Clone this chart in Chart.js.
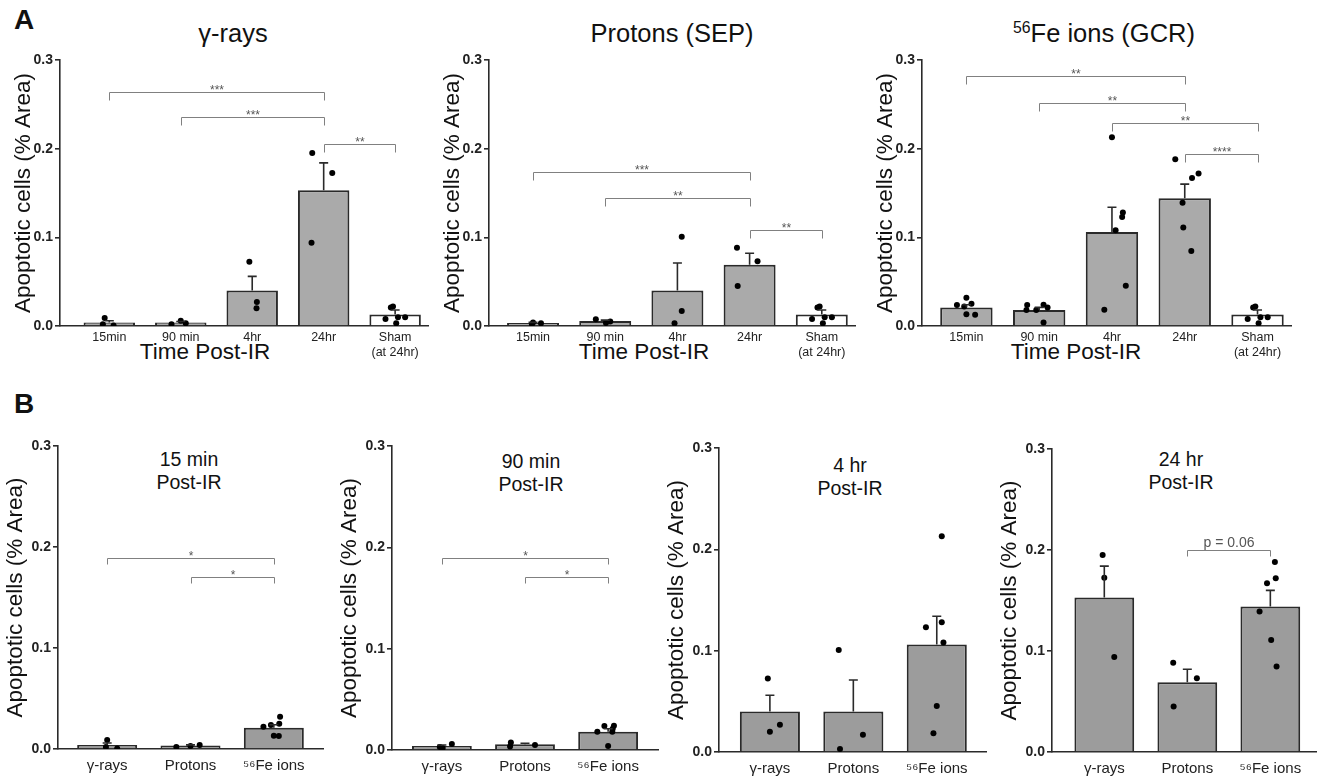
<!DOCTYPE html>
<html>
<head>
<meta charset="utf-8">
<script src="https://cdn.jsdelivr.net/npm/chart.js@4.4.1/dist/chart.umd.min.js"></script>
<style>
  body { margin: 0; background: #fff; width: 1328px; height: 781px; position: relative; overflow: hidden;
         font-family: 'Liberation Sans', Arial, sans-serif; color: #111; }
  canvas { position: absolute; }
  .txt { position: absolute; width: 300px; text-align: center; white-space: nowrap; }
  .letter { position: absolute; font-weight: bold; font-size: 28px; }
  .ptitle { font-size: 25.5px; line-height: 30px; }
  .btitle { font-size: 19.5px; line-height: 23px; }
  .xtitle { font-size: 22.5px; line-height: 26px; }
  sup { font-size: 62%; vertical-align: 0.55em; line-height: 0; }
</style>
</head>
<body>
<div class="letter" style="left:14px; top:4px;">A</div>
<div class="letter" style="left:14px; top:388px;">B</div>

<div class="txt ptitle" style="left:83px; top:18px;">γ-rays</div>
<div class="txt ptitle" style="left:522px; top:18px;">Protons (SEP)</div>
<div class="txt ptitle" style="left:954px; top:18px;"><sup>56</sup>Fe ions (GCR)</div>

<div class="txt xtitle" style="left:55px; top:339px;">Time Post-IR</div>
<div class="txt xtitle" style="left:494px; top:339px;">Time Post-IR</div>
<div class="txt xtitle" style="left:926px; top:339px;">Time Post-IR</div>

<div class="txt btitle" style="left:39px; top:448px;">15 min<br>Post-IR</div>
<div class="txt btitle" style="left:381px; top:450px;">90 min<br>Post-IR</div>
<div class="txt btitle" style="left:700px; top:454px;">4 hr<br>Post-IR</div>
<div class="txt btitle" style="left:1031px; top:448px;">24 hr<br>Post-IR</div>

<canvas id="a1"></canvas>
<canvas id="a2"></canvas>
<canvas id="a3"></canvas>
<canvas id="b1"></canvas>
<canvas id="b2"></canvas>
<canvas id="b3"></canvas>
<canvas id="b4"></canvas>

<script>
// Apoptotic cells (% area) after gamma, proton and 56Fe irradiation
// Panel A: time course per radiation type; Panel B: same data regrouped by time point

const yTicks = [0, 0.1, 0.2, 0.3];
const timeLabels = ['15min', '90 min', '4hr', '24hr', ['Sham', '(at 24hr)']];
const typeLabels = ['γ-rays', 'Protons', '⁵⁶Fe ions'];

// sham group (shared by all three A panels)
const shamMean = 0.013;
const shamSem = 0.005;
const shamPts = [0.022, 0.021, 0.008, 0.010, 0.010, 0.003];
const shamJit = [-0.03, -0.06, -0.135, 0.04, 0.14, 0.015];

// gamma-rays: 15min, 90min, 4hr, 24hr
const gammaMean = [0.004, 0.004, 0.040, 0.153];
const gammaSem = [0.002, 0.001, 0.016, 0.031];
const gammaPts = [[0.009, 0.002, 0.0005], [0.002, 0.006, 0.003], [0.0725, 0.027, 0.020], [0.195, 0.1725, 0.094]];
const gammaJitA = [[-0.065, -0.09, 0.06], [-0.13, 0, 0.07], [-0.04, 0.065, 0.06], [-0.16, 0.12, -0.17]];
const gammaJitB = [[0, -0.015, 0.12], [0.01, 0.12, -0.025], [-0.025, 0.12, 0], [-0.02, 0, 0.12]];

// protons (SEP)
const protonMean = [0.0034, 0.0056, 0.040, 0.069];
const protonSem = [0.0007, 0.001, 0.031, 0.013];
const protonPts = [[0.004, 0.002, 0.003], [0.0075, 0.0035, 0.005], [0.1007, 0.017, 0.003], [0.0883, 0.073, 0.045]];
const protonJitA = [[0, -0.015, 0.11], [-0.13, 0.01, 0.07], [0.06, 0.06, -0.04], [-0.175, 0.11, -0.165]];
const protonJitB = [[0.11, -0.17, 0], [-0.17, -0.18, 0.12], [-0.175, 0.115, -0.16], [-0.17, 0.115, -0.165]];

// 56Fe ions (GCR)
const feMean = [0.021, 0.018, 0.106, 0.144];
const feSem = [0.003, 0.003, 0.028, 0.016];
const fePts = [[0.0319, 0.025, 0.0237, 0.022, 0.0132, 0.0128],
               [0.024, 0.0237, 0.021, 0.018, 0.018, 0.004],
               [0.2128, 0.128, 0.123, 0.108, 0.0455, 0.0184],
               [0.188, 0.172, 0.167, 0.139, 0.111, 0.0846]];
const feJitA = [[0, 0.07, -0.13, -0.03, 0, 0.12],
                [0.06, -0.165, 0.115, -0.175, -0.04, 0.06],
                [0, 0.15, 0.14, 0.05, 0.19, -0.105],
                [-0.13, 0.19, 0.10, -0.03, -0.02, 0.09]];
const feJitB = [[0.075, 0.065, -0.035, -0.125, 0, 0.06],
                [0.07, -0.045, 0.055, -0.13, 0.05, 0],
                [0.06, 0.06, -0.13, 0.08, 0, -0.04],
                [0.055, 0.065, -0.04, -0.13, 0.01, 0.075]];

// significance brackets: [from, to, height, label]
const bracketsA1 = [[0, 3, 0.2636, '***'], [1, 3, 0.2353, '***'], [3, 4, 0.2056, '**']];
const bracketsA2 = [[0, 3, 0.174, '***'], [1, 3, 0.1444, '**'], [3, 4, 0.1086, '**']];
const bracketsA3 = [[0, 3, 0.2822, '**'], [1, 3, 0.2518, '**'], [2, 4, 0.2286, '**'], [3, 4, 0.194, '****']];
const bracketsB1 = [[0, 2, 0.1896, '*'], [1, 2, 0.1705, '*']];
const bracketsB2 = [[0, 2, 0.1895, '*'], [1, 2, 0.1706, '*']];
const bracketsB3 = [];
const bracketsB4 = [[1, 2, 0.200, 'p = 0.06']];

Chart.defaults.font.family = "'Liberation Sans', Arial, sans-serif";
Chart.defaults.color = '#222';

// error bars (upper SEM only) and significance brackets
const annotPlugin = {
  id: 'annot',
  afterDatasetsDraw(chart, args, o) {
    const { ctx } = chart;
    const x = chart.scales.x, y = chart.scales.y;
    ctx.save();
    ctx.strokeStyle = '#2a2a2a';
    ctx.lineWidth = 1.6;
    o.means.forEach((m, i) => {
      const px = x.getPixelForValue(i);
      const y0 = y.getPixelForValue(m), y1 = y.getPixelForValue(m + o.sem[i]);
      ctx.beginPath();
      ctx.moveTo(px, y0); ctx.lineTo(px, y1);
      ctx.moveTo(px - 4.5, y1); ctx.lineTo(px + 4.5, y1);
      ctx.stroke();
    });
    ctx.strokeStyle = '#808080';
    ctx.lineWidth = 1;
    ctx.fillStyle = '#555';
    ctx.textAlign = 'center';
    ctx.textBaseline = 'alphabetic';
    o.brackets.forEach(([a, b, v, label]) => {
      const xa = Math.round(x.getPixelForValue(a)) + 0.5;
      const xb = Math.round(x.getPixelForValue(b)) + 0.5;
      const py = Math.round(y.getPixelForValue(v)) + 0.5;
      ctx.beginPath();
      ctx.moveTo(xa, py + o.leg); ctx.lineTo(xa, py); ctx.lineTo(xb, py); ctx.lineTo(xb, py + o.leg);
      ctx.stroke();
      const star = label[0] === '*';
      ctx.font = (star ? '12px' : '14px') + " 'Liberation Sans', Arial, sans-serif";
      ctx.fillText(label, (xa + xb) / 2, star ? py + 1 : py - 4);
    });
    ctx.restore();
  }
};

function makeChart(p) {
  const cv = document.getElementById(p.id);
  const [L, T, R, B] = p.area;
  const yw = 60, pt = 12, pr = 8;
  const left = L - yw, top = T - pt;
  cv.width = R + pr - left;
  cv.height = B + p.xh - top;
  cv.style.left = left + 'px';
  cv.style.top = top + 'px';

  const points = p.pts.flatMap((arr, i) => arr.map((v, k) => ({ x: i + p.jit[i][k], y: v })));

  new Chart(cv, {
    type: 'bar',
    data: {
      datasets: [
        { type: 'scatter', data: points, pointRadius: 3, pointBackgroundColor: '#000',
          pointBorderWidth: 0, order: 0 },
        { data: p.means.map((m, i) => ({ x: i, y: m })), backgroundColor: p.colors,
          borderColor: '#2a2a2a', borderWidth: 2, barPercentage: 0.72, categoryPercentage: 1, order: 1 }
      ]
    },
    options: {
      responsive: false,
      animation: false,
      layout: { padding: { left: 0, top: pt, right: pr, bottom: 0 } },
      plugins: {
        legend: { display: false },
        tooltip: { enabled: false },
        annot: { means: p.means, sem: p.sem, brackets: p.brackets, leg: p.leg }
      },
      scales: {
        x: {
          type: 'linear', offset: false, min: p.xmin, max: p.xmax,
          afterBuildTicks: s => { s.ticks = p.labels.map((_, i) => ({ value: i })); },
          afterFit: s => { s.height = p.xh; },
          grid: { display: true, drawOnChartArea: false, drawTicks: false },
          border: { color: '#2a2a2a', width: 1.6 },
          ticks: { autoSkip: false, maxRotation: 0, padding: p.xpad, color: '#222',
                   font: { size: p.xfont }, callback: v => p.labels[v] }
        },
        y: {
          min: 0, max: 0.3,
          afterBuildTicks: s => { s.ticks = yTicks.map(v => ({ value: v })); },
          afterFit: s => { s.width = yw; },
          grid: { drawOnChartArea: false, drawTicks: true, tickLength: 5, color: '#2a2a2a', lineWidth: 1.6 },
          border: { color: '#2a2a2a', width: 1.6 },
          ticks: { padding: 2, color: '#222', font: { size: 14, weight: 'bold' }, callback: v => v.toFixed(1) },
          title: { display: true, text: 'Apoptotic cells (% Area)', color: '#111',
                   font: { size: 22.5 }, padding: { top: p.ytpad, bottom: 0 } }
        }
      }
    },
    plugins: [annotPlugin]
  });
}

const greyA = '#aaaaaa', greyB = '#9c9c9c';
const colorsA = [greyA, greyA, greyA, greyA, '#ffffff'];
const colorsB = [greyB, greyB, greyB];

const aCommon = { labels: timeLabels, colors: colorsA, xh: 44, xpad: 4, xfont: 12.5, ytpad: 10.5, leg: 8 };
makeChart({ ...aCommon, id: 'a1', area: [60, 60, 428, 326], xmin: -0.69, xmax: 4.46,
  means: [...gammaMean, shamMean], sem: [...gammaSem, shamSem],
  pts: [...gammaPts, shamPts], jit: [...gammaJitA, shamJit], brackets: bracketsA1 });
makeChart({ ...aCommon, id: 'a2', area: [489, 60, 855, 326], xmin: -0.61, xmax: 4.46,
  means: [...protonMean, shamMean], sem: [...protonSem, shamSem],
  pts: [...protonPts, shamPts], jit: [...protonJitA, shamJit], brackets: bracketsA2 });
makeChart({ ...aCommon, id: 'a3', area: [922, 60, 1291, 326], xmin: -0.61, xmax: 4.46,
  means: [...feMean, shamMean], sem: [...feSem, shamSem],
  pts: [...fePts, shamPts], jit: [...feJitA, shamJit], brackets: bracketsA3 });

// Panel B: one chart per time point, comparing radiation types
const bAreas = [[58, 446, 323, 749], [392, 446, 658, 750], [719, 448, 986, 752], [1052, 449, 1316, 752]];
const bRange = [[-0.59, 2.59], [-0.6, 2.6], [-0.61, 2.59], [-0.63, 2.55]];
const bBrackets = [bracketsB1, bracketsB2, bracketsB3, bracketsB4];
bAreas.forEach((area, t) => {
  makeChart({
    id: 'b' + (t + 1), area, labels: typeLabels, colors: colorsB, xh: 31, xpad: 8, xfont: 15,
    ytpad: 4.5, leg: 6, xmin: bRange[t][0], xmax: bRange[t][1],
    means: [gammaMean[t], protonMean[t], feMean[t]],
    sem: [gammaSem[t], protonSem[t], feSem[t]],
    pts: [gammaPts[t], protonPts[t], fePts[t]],
    jit: [gammaJitB[t], protonJitB[t], feJitB[t]],
    brackets: bBrackets[t]
  });
});
</script>
</body>
</html>
